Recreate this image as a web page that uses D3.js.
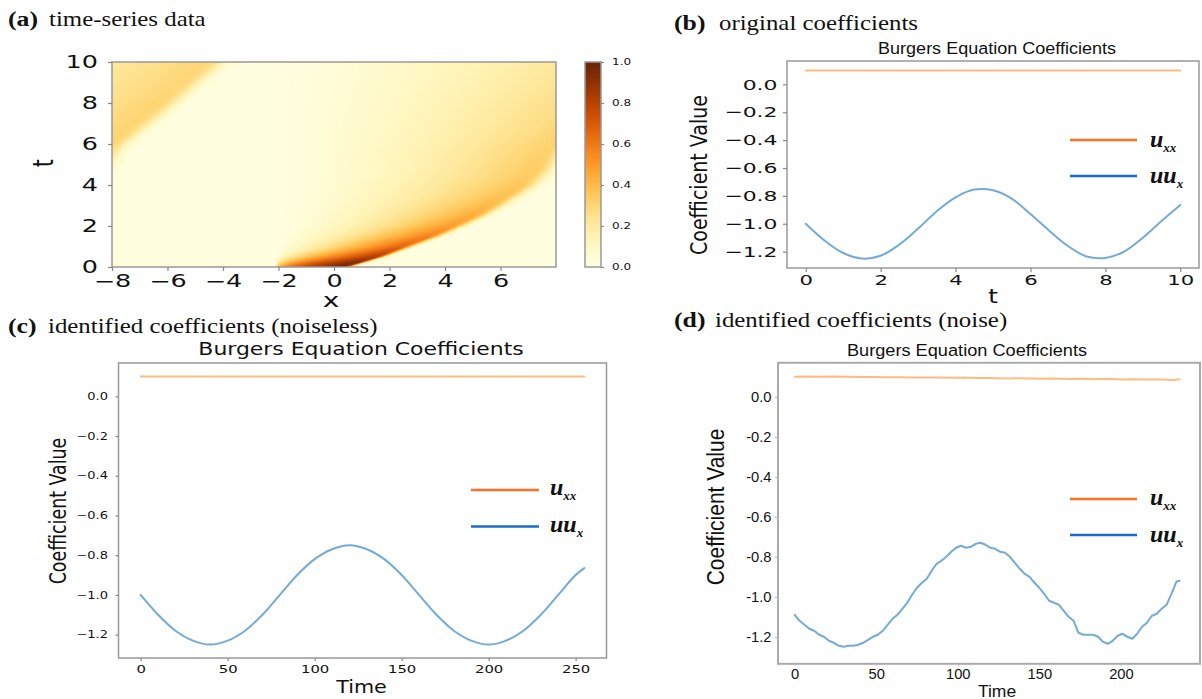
<!DOCTYPE html>
<meta charset="utf-8">
<head>
  <title>Burgers equation coefficients</title>
</head>
<style>
body { margin: 0; background: #fff; }
svg { display: block; }
</style>
<body>
<script src="https://cdnjs.cloudflare.com/ajax/libs/d3/7.8.5/d3.min.js"></script>
<script>
// ---------- values ----------

// (a) heat map: shock front position (x, unwrapped on the periodic [-8,8] domain),
// peak value just behind it, foot of the ramp, ramp shape and front softness, per t
var heatT     = [0,    0.2,  0.5,  0.8,  1.0,  1.5,  2.0,  2.5,  3.0,  3.5,  4.0,  4.5,  5.0,  5.5,  6.0,  7.0,  8.0,  9.0,  10.0];
var heatFront = [0.5,  1.0,  1.75, 2.35, 2.75, 3.75, 4.6,  5.4,  6.05, 6.65, 7.2,  7.6,  7.9,  8.1,  8.45, 9.35, 10.25, 11.1, 12.0];
var heatPeak  = [1.0,  0.97, 0.86, 0.76, 0.70, 0.60, 0.52, 0.47, 0.43, 0.40, 0.38, 0.36, 0.35, 0.34, 0.33, 0.32, 0.32, 0.31, 0.31];
var heatFoot  = [-2.1, -2.1, -2.1, -2.0, -2.0, -2.0, -2.0, -2.0, -2.0, -2.0, -2.0, -2.0, -2.0, -2.0, -2.0, -2.0, -2.0, -2.0, -2.0];
var heatShape = [0.3,  0.45, 0.75, 1.0,  1.15, 1.35, 1.5,  1.5,  1.5,  1.5,  1.45, 1.45, 1.4,  1.35, 1.35, 1.3,  1.3,  1.3,  1.3];
var heatEdge  = [0.07, 0.07, 0.08, 0.09, 0.1,  0.11, 0.12, 0.13, 0.14, 0.15, 0.16, 0.17, 0.17, 0.17, 0.17, 0.17, 0.17, 0.17, 0.17];
var heatBase  = 0.02;
var heatXTicks = [-8, -6, -4, -2, 0, 2, 4, 6];
var heatTTicks = [0, 2, 4, 6, 8, 10];
var cbarTicks  = [0, 0.2, 0.4, 0.6, 0.8, 1.0];

// (b) original coefficients
var origT   = [0, 0.5, 1, 1.5, 2, 2.5, 3, 3.5, 4, 4.5, 5, 5.5, 6, 6.5, 7, 7.5, 8, 8.5, 9, 9.5, 10];
var origUx  = [-1.00, -1.12, -1.21, -1.25, -1.23, -1.15, -1.035, -0.91, -0.81, -0.755, -0.76, -0.82, -0.93, -1.05, -1.16, -1.235, -1.245, -1.20, -1.10, -0.98, -0.865];
var origUxxT = [0, 10];
var origUxx  = [0.1, 0.1];
var origXTicks = [0, 2, 4, 6, 8, 10];

// (c) identified, noiseless
var cleanTime = [0, 10, 20, 30, 40, 50, 60, 70, 80, 90, 100, 110, 120, 130, 140, 150, 160, 170, 180, 190, 200, 210, 220, 230, 240, 250, 255];
var cleanUx   = [-1.00, -1.10, -1.18, -1.23, -1.25, -1.23, -1.18, -1.10, -1.00, -0.90, -0.82, -0.77, -0.75, -0.77, -0.82, -0.90, -1.00, -1.10, -1.18, -1.23, -1.25, -1.23, -1.18, -1.10, -1.00, -0.90, -0.865];
var cleanUxxTime = [0, 255];
var cleanUxx     = [0.1, 0.1];
var cleanXTicks  = [0, 50, 100, 150, 200, 250];

// (d) identified, noisy
var noisyTime = [0, 3, 6, 9, 12, 15, 18, 21, 24, 27, 30, 33, 36, 39, 42, 45, 48, 51, 54, 57, 60, 63, 66, 69, 72, 75, 78, 81, 84, 87,
                 90, 93, 96, 99, 102, 105, 108, 111, 114, 117, 120, 123, 126, 129, 132, 135, 138, 141, 144, 147, 150, 153, 156, 159,
                 162, 165, 168, 171, 174, 177, 180, 183, 186, 189, 192, 195, 198, 201, 204, 207, 210, 213, 216, 219, 222, 225, 228,
                 231, 234, 236];
var noisyUx   = [-1.09, -1.12, -1.14, -1.16, -1.17, -1.19, -1.20, -1.22, -1.23, -1.245, -1.25, -1.245, -1.245, -1.24, -1.23, -1.215,
                 -1.20, -1.19, -1.17, -1.14, -1.11, -1.09, -1.06, -1.03, -0.99, -0.955, -0.93, -0.91, -0.87, -0.835,
                 -0.82, -0.80, -0.775, -0.755, -0.745, -0.755, -0.75, -0.735, -0.73, -0.74, -0.755, -0.76, -0.775, -0.78,
                 -0.80, -0.83, -0.86, -0.885, -0.90, -0.93, -0.955, -0.985, -1.02, -1.03, -1.04, -1.07, -1.10, -1.12,
                 -1.18, -1.19, -1.19, -1.19, -1.20, -1.225, -1.235, -1.22, -1.195, -1.185, -1.20, -1.21, -1.185, -1.15,
                 -1.13, -1.095, -1.085, -1.06, -1.04, -0.985, -0.925, -0.92];
var noisyUxxTime = [0, 8, 16, 24, 32, 40, 48, 56, 64, 72, 80, 88, 96, 104, 112, 120, 128, 136, 144, 152, 160, 168, 176, 184, 192, 200, 208, 216, 224, 232, 236];
var noisyUxx     = [0.100, 0.101, 0.100, 0.101, 0.100, 0.099, 0.099, 0.098, 0.098, 0.097, 0.097, 0.096, 0.095, 0.096, 0.094, 0.094,
                    0.092, 0.093, 0.091, 0.090, 0.091, 0.089, 0.090, 0.088, 0.090, 0.087, 0.088, 0.086, 0.087, 0.084, 0.088];
var noisyXTicks  = [0, 50, 100, 150, 200];

var coefYTicks = [0, -0.2, -0.4, -0.6, -0.8, -1.0, -1.2];

// ---------- drawing ----------
var W = 1202, H = 699;
var DV = "'DejaVu Sans', sans-serif", AR = "'Liberation Sans', Arial, sans-serif", TM = "'Liberation Serif', 'Times New Roman', serif";
var frameColor = "#999", tickColor = "#888";

var svg = d3.select("body").append("svg").attr("width", W).attr("height", H);
svg.append("rect").attr("width", W).attr("height", H).attr("fill", "#fff");

function txt(parent, s, x, y, o) {
  var rot = o.rotate ? " rotate(-90)" : "";
  return parent.append("text")
    .attr("transform", "translate(" + x + "," + y + ") scale(" + (o.sx || 1) + ",1)" + rot)
    .attr("font-family", o.font).attr("font-size", o.size)
    .attr("font-weight", o.weight || "normal").attr("font-style", o.style || "normal")
    .attr("text-anchor", o.anchor || "start").attr("fill", "#111").text(s);
}

function styleAxis(g, gen, o) {
  g.call(gen);
  g.select(".domain").remove();
  g.selectAll(".tick line").attr("stroke", o.tick || tickColor).attr("stroke-width", 1.2);
  g.selectAll(".tick text")
    .attr("font-family", o.font).attr("font-size", o.size).attr("fill", "#111")
    .each(function() {
      var t = d3.select(this), x = +t.attr("x") || 0;
      t.attr("x", 0).attr("transform", "translate(" + x + ",0) scale(" + o.sx + ",1)");
    });
}

function frame(xs, ys, col, w) {
  svg.append("rect")
    .attr("x", xs.range()[0]).attr("y", ys.range()[1])
    .attr("width", xs.range()[1] - xs.range()[0]).attr("height", ys.range()[0] - ys.range()[1])
    .attr("fill", "none").attr("stroke", col || frameColor).attr("stroke-width", w || 1.5);
}

function header(letter, rest, x, x2, y) {
  txt(svg, letter, x, y, {font: TM, size: 22, weight: "bold", sx: 1.17});
  txt(svg, rest, x2, y, {font: TM, size: 22, sx: 1.13});
}

function legend(x0, x1, y1, y2, tx, b1, b2) {
  svg.append("line").attr("x1", x0).attr("x2", x1).attr("y1", y1).attr("y2", y1)
    .attr("stroke", "#ff7020").attr("stroke-width", 2.5);
  svg.append("line").attr("x1", x0).attr("x2", x1).attr("y1", y2).attr("y2", y2)
    .attr("stroke", "#1a6ccc").attr("stroke-width", 2.5);
  var t1 = svg.append("text").attr("x", tx).attr("y", b1).attr("font-family", TM)
    .attr("font-weight", "bold").attr("font-style", "italic").attr("fill", "#111");
  t1.append("tspan").attr("font-size", 24).text("u");
  t1.append("tspan").attr("font-size", 13).attr("dy", 5).text("xx");
  var t2 = svg.append("text").attr("x", tx).attr("y", b2).attr("font-family", TM)
    .attr("font-weight", "bold").attr("font-style", "italic").attr("fill", "#111");
  t2.append("tspan").attr("font-size", 24).text("uu");
  t2.append("tspan").attr("font-size", 13).attr("dy", 5).text("x");
}

function series(xs, ys, xv, yv, color, curve) {
  var pts = xv.map(function(d, i) { return [d, yv[i]]; });
  svg.append("path").datum(pts)
    .attr("d", d3.line().x(function(d) { return xs(d[0]); }).y(function(d) { return ys(d[1]); }).curve(curve || d3.curveLinear))
    .attr("fill", "none").attr("stroke", color).attr("stroke-width", 2)
    .attr("stroke-linejoin", "round").attr("stroke-linecap", "round");
}

var lineOrange = "#ffbb82", lineBlue = "#74abd6";

// ===== (a) heat map =====
header("(a)", "time-series data", 8, 49, 26);

var ax = d3.scaleLinear().domain([-8, 8]).range([112, 556]);
var ay = d3.scaleLinear().domain([0, 10]).range([267, 62]);
var heatColor = d3.scaleSequential(d3.interpolateYlOrBr).domain([0, 1]).clamp(true);

var frontAt = d3.scaleLinear().domain(heatT).range(heatFront).clamp(true);
var peakAt  = d3.scaleLinear().domain(heatT).range(heatPeak).clamp(true);
var footAt  = d3.scaleLinear().domain(heatT).range(heatFoot).clamp(true);
var shapeAt = d3.scaleLinear().domain(heatT).range(heatShape).clamp(true);
var edgeAt  = d3.scaleLinear().domain(heatT).range(heatEdge).clamp(true);
var period = ax.domain()[1] - ax.domain()[0];

function heatValue(x, t) {
  var s = frontAt(t), pk = peakAt(t), f = footAt(t), p = shapeAt(t), w = edgeAt(t);
  var X = (x + period < s + 6 * w) ? x + period : x;
  if (X <= f) return heatBase;
  var r = Math.min(1, (X - f) / (s - 2 * w - f));
  var ramp = heatBase + (pk - heatBase) * Math.pow(r, p);
  var edge = 1 / (1 + Math.exp((X - s) / w));
  return heatBase + (ramp - heatBase) * edge;
}

var hw = Math.round(ax.range()[1] - ax.range()[0]), hh = Math.round(ay.range()[0] - ay.range()[1]);
var cnv = document.createElement("canvas");
cnv.width = hw; cnv.height = hh;
var ctx = cnv.getContext("2d");
var img = ctx.createImageData(hw, hh);
for (var j = 0; j < hh; j++) {
  var t = ay.invert(ay.range()[1] + j + 0.5);
  for (var i = 0; i < hw; i++) {
    var x = ax.invert(ax.range()[0] + i + 0.5);
    var c = d3.rgb(heatColor(heatValue(x, t)));
    var k = (j * hw + i) * 4;
    img.data[k] = c.r; img.data[k + 1] = c.g; img.data[k + 2] = c.b; img.data[k + 3] = 255;
  }
}
ctx.putImageData(img, 0, 0);
svg.append("image").attr("x", ax.range()[0]).attr("y", ay.range()[1])
  .attr("width", hw).attr("height", hh).attr("preserveAspectRatio", "none")
  .attr("href", cnv.toDataURL());
frame(ax, ay);

styleAxis(svg.append("g").attr("transform", "translate(" + ax.range()[0] + ",0)"),
  d3.axisLeft(ay).tickValues(heatTTicks).tickSize(4).tickPadding(10).tickFormat(d3.format("d")),
  {font: DV, size: 17, sx: 1.5});
styleAxis(svg.append("g").attr("transform", "translate(0," + ay.range()[0] + ")"),
  d3.axisBottom(ax).tickValues(heatXTicks).tickSize(4).tickPadding(3.5).tickFormat(d3.format("d")),
  {font: DV, size: 17, sx: 1.5});
txt(svg, "t", 53, 163, {font: DV, size: 20, sx: 1.4, anchor: "middle", rotate: true});
txt(svg, "x", 331, 307, {font: DV, size: 20, sx: 1.4, anchor: "middle"});

// colour bar
var cy = d3.scaleLinear().domain([0, 1]).range([267, 62]);
var grad = svg.append("defs").append("linearGradient").attr("id", "cbar")
  .attr("x1", 0).attr("x2", 0).attr("y1", 1).attr("y2", 0);
d3.range(0, 1.0001, 0.05).forEach(function(v) {
  grad.append("stop").attr("offset", v).attr("stop-color", heatColor(v));
});
var cbx = 585, cbw = 16;
svg.append("rect").attr("x", cbx).attr("y", cy.range()[1]).attr("width", cbw)
  .attr("height", cy.range()[0] - cy.range()[1]).attr("fill", "url(#cbar)")
  .attr("stroke", frameColor).attr("stroke-width", 1.5);
styleAxis(svg.append("g").attr("transform", "translate(" + (cbx + cbw) + ",0)"),
  d3.axisRight(cy).tickValues(cbarTicks).tickSize(3).tickPadding(8).tickFormat(d3.format(".1f")),
  {font: DV, size: 8, sx: 1.5});

// ===== (b) original coefficients =====
header("(b)", "original coefficients", 674, 719, 30);
var bx = d3.scaleLinear().domain([-0.5, 10.5]).range([787, 1199]);
var by = d3.scaleLinear().domain([-1.3175, 0.1675]).range([268, 61]);
series(bx, by, origUxxT, origUxx, lineOrange);
series(bx, by, origT, origUx, lineBlue, d3.curveCatmullRom);
frame(bx, by);
styleAxis(svg.append("g").attr("transform", "translate(" + bx.range()[0] + ",0)"),
  d3.axisLeft(by).tickValues(coefYTicks).tickSize(4).tickPadding(5.5).tickFormat(d3.format(".1f")),
  {font: DV, size: 14.6, sx: 1.5});
styleAxis(svg.append("g").attr("transform", "translate(0," + by.range()[0] + ")"),
  d3.axisBottom(bx).tickValues(origXTicks).tickSize(4).tickPadding(2.5).tickFormat(d3.format("d")),
  {font: DV, size: 14.6, sx: 1.45});
txt(svg, "Burgers Equation Coefficients", 997, 54, {font: AR, size: 17, sx: 1.06, anchor: "middle"});
txt(svg, "Coefficient Value", 707, 175, {font: DV, size: 19, sx: 1.2, anchor: "middle", rotate: true});
txt(svg, "t", 993, 303, {font: DV, size: 19, sx: 1.3, anchor: "middle"});
legend(1070, 1137, 140, 176, 1150, 146.5, 183);

// ===== (c) identified coefficients (noiseless) =====
header("(c)", "identified coefficients (noiseless)", 8, 48, 332.5);
var cx = d3.scaleLinear().domain([-12.75, 267.75]).range([118.5, 606.5]);
var cyy = d3.scaleLinear().domain([-1.3175, 0.1675]).range([658, 363]);
series(cx, cyy, cleanUxxTime, cleanUxx, lineOrange);
series(cx, cyy, cleanTime, cleanUx, lineBlue, d3.curveCatmullRom);
frame(cx, cyy);
styleAxis(svg.append("g").attr("transform", "translate(" + cx.range()[0] + ",0)"),
  d3.axisLeft(cyy).tickValues(coefYTicks).tickSize(3).tickPadding(7.5).tickFormat(d3.format(".1f")),
  {font: DV, size: 10, sx: 1.3});
styleAxis(svg.append("g").attr("transform", "translate(0," + cyy.range()[0] + ")"),
  d3.axisBottom(cx).tickValues(cleanXTicks).tickSize(3).tickPadding(4).tickFormat(d3.format("d")),
  {font: DV, size: 11, sx: 1.35});
txt(svg, "Burgers Equation Coefficients", 361, 355, {font: DV, size: 17, sx: 1.29, anchor: "middle"});
txt(svg, "Coefficient Value", 66, 511, {font: DV, size: 17.4, sx: 1.29, anchor: "middle", rotate: true});
txt(svg, "Time", 361.5, 693, {font: DV, size: 18, sx: 1.15, anchor: "middle"});
legend(471, 539, 490, 526.5, 550, 494.5, 531.5);

// ===== (d) identified coefficients (noise) =====
header("(d)", "identified coefficients (noise)", 674, 715, 327);
var dx = d3.scaleLinear().domain([-10.2, 248.5]).range([778, 1200]);
var dy = d3.scaleLinear().domain([-1.335, 0.17]).range([663.8, 362.8]);
series(dx, dy, noisyUxxTime, noisyUxx, lineOrange);
series(dx, dy, noisyTime, noisyUx, lineBlue);
frame(dx, dy, "#aaa", 2);
var hyph = function(v) { return d3.format(".1f")(v).replace("\u2212", "-"); };
styleAxis(svg.append("g").attr("transform", "translate(" + dx.range()[0] + ",0)"),
  d3.axisLeft(dy).tickValues(coefYTicks).tickSize(3).tickPadding(3.5).tickFormat(hyph),
  {font: AR, size: 14, sx: 1.05, tick: "#bbb"});
styleAxis(svg.append("g").attr("transform", "translate(0," + dy.range()[0] + ")"),
  d3.axisBottom(dx).tickValues(noisyXTicks).tickSize(2).tickPadding(3).tickFormat(d3.format("d")),
  {font: AR, size: 14, sx: 1.05, tick: "#bbb"});
txt(svg, "Burgers Equation Coefficients", 967, 356, {font: AR, size: 17, sx: 1.07, anchor: "middle"});
txt(svg, "Coefficient Value", 724, 507, {font: AR, size: 21, sx: 1.14, anchor: "middle", rotate: true});
txt(svg, "Time", 997, 696.5, {font: AR, size: 17, sx: 1.03, anchor: "middle"});
legend(1070, 1137, 499, 535, 1150, 505, 542);
</script>
</body>
</html>
